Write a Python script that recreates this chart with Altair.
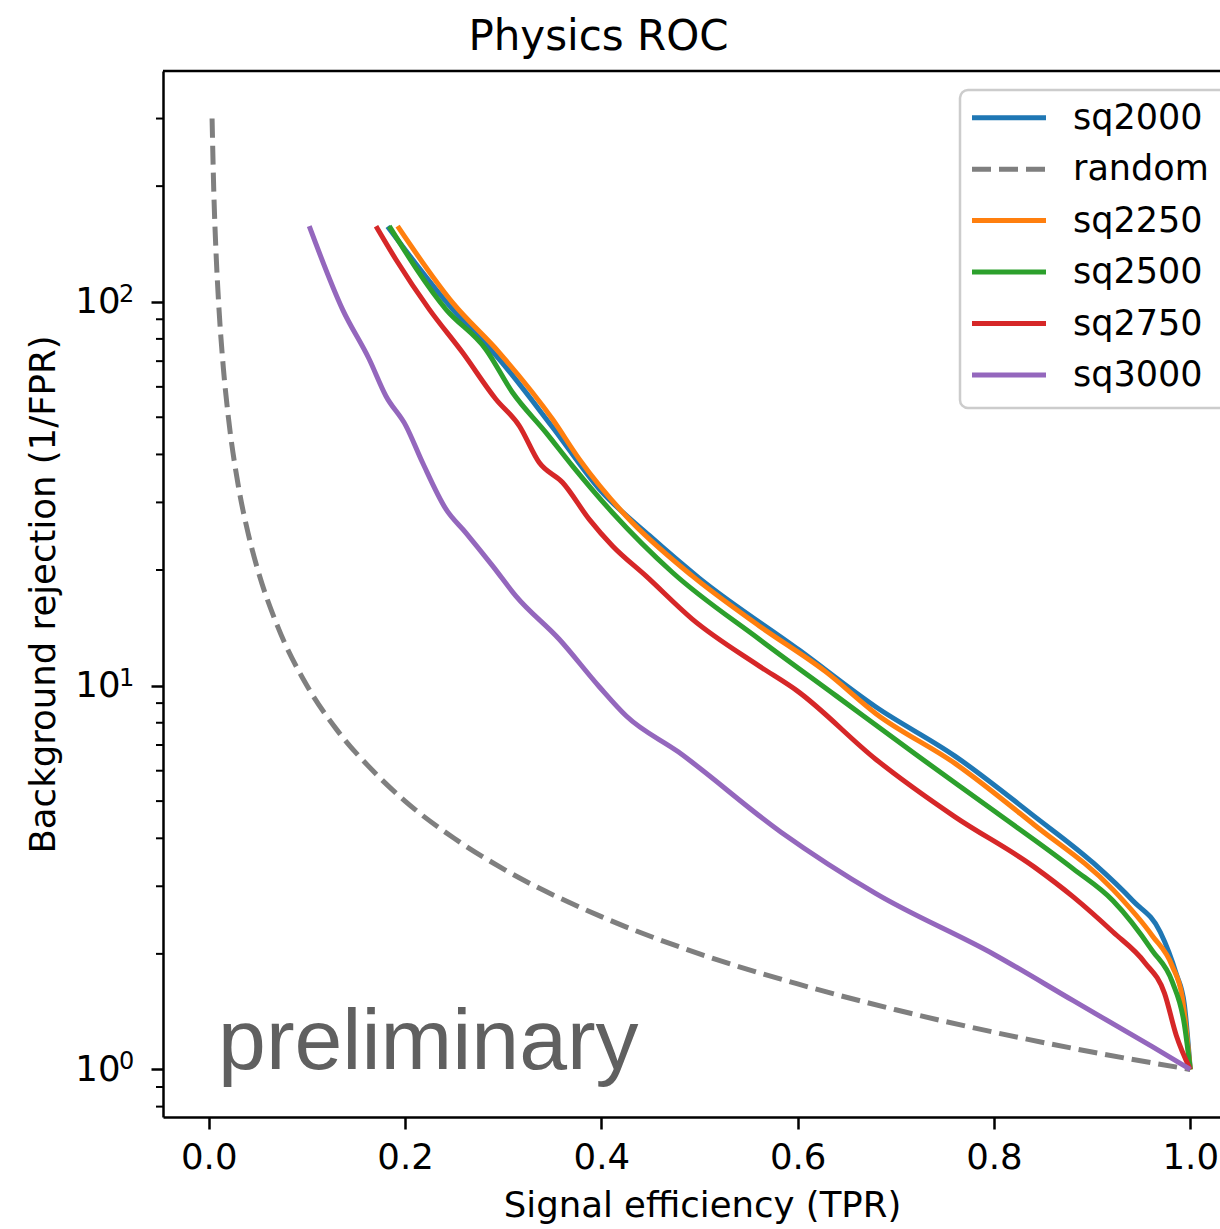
import altair as alt
import pandas as pd

# ---------------- data ----------------
series_names = ["sq2000", "random", "sq2250", "sq2500", "sq2750", "sq3000"]
series_colors = ["#1f77b4", "#7f7f7f", "#ff7f0e", "#2ca02c", "#d62728", "#9467bd"]

sq2000_x = [0.1822, 0.2450, 0.2960, 0.3503, 0.3979, 0.4488, 0.4997, 0.6016, 0.6798,
            0.7603, 0.8409, 0.9012, 0.9415, 0.9694, 0.9857, 0.9939, 1.0]
sq2000_y = [157.0, 97.8, 70.8, 47.1, 32.5, 24.6, 19.05, 12.37, 8.79,
            6.55, 4.57, 3.45, 2.75, 2.28, 1.775, 1.483, 1.0]

random_x = [0.0034, 0.005, 0.0075, 0.01, 0.015, 0.02, 0.03, 0.04, 0.05, 0.07, 0.1, 0.13,
            0.17, 0.2, 0.25, 0.3, 0.4, 0.5, 0.6, 0.7, 0.8, 0.9, 1.0]
random_y = [300, 200, 133, 100, 66.7, 50, 33.3, 25, 20, 14.3, 10, 7.7,
            5.9, 5.0, 4.0, 3.33, 2.5, 2.0, 1.67, 1.43, 1.25, 1.11, 1.0]

sq2250_x = [0.1924, 0.2484, 0.2960, 0.3503, 0.3775, 0.4254, 0.4926, 0.5609, 0.6291,
            0.6798, 0.7603, 0.8409, 0.9213, 0.9613, 0.9817, 0.9918, 1.0]
sq2250_y = [157.3, 99.4, 73.7, 49.4, 38.9, 27.6, 19.3, 14.3, 10.84,
            8.45, 6.27, 4.34, 2.94, 2.23, 1.857, 1.546, 1.0]

sq2500_x = [0.1839, 0.2417, 0.2824, 0.3095, 0.3436, 0.3707, 0.4114, 0.4725, 0.5609,
            0.6393, 0.7198, 0.8003, 0.8808, 0.9213, 0.9613, 0.9817, 0.9939, 1.0]
sq2500_y = [157.3, 95.5, 75.1, 58.0, 45.6, 37.3, 28.2, 19.7, 13.2,
            9.4, 6.63, 4.71, 3.33, 2.75, 2.04, 1.69, 1.315, 1.0]

sq2750_x = [0.1704, 0.1907, 0.2247, 0.2586, 0.2926, 0.3164, 0.3367, 0.3605, 0.3877,
            0.4114, 0.4454, 0.4926, 0.5609, 0.5992, 0.6798, 0.7603, 0.8409, 0.8811,
            0.9213, 0.9536, 0.9737, 0.9857, 1.0]
sq2750_y = [157.3, 128.8, 95.5, 73.7, 55.7, 47.5, 38.1, 33.8, 27.1,
            23.1, 19.3, 14.9, 11.24, 9.70, 6.42, 4.55, 3.37, 2.81,
            2.28, 1.90, 1.58, 1.228, 1.0]

sq3000_x = [0.1024, 0.1363, 0.1635, 0.1805, 0.2009, 0.2178, 0.2417, 0.2620, 0.2892,
            0.3130, 0.3571, 0.3979, 0.4254, 0.4783, 0.5831, 0.6798, 0.8006, 0.8808,
            0.9613, 1.0]
sq3000_y = [157.3, 95.5, 70.8, 56.8, 47.5, 38.1, 28.8, 25.0, 20.5,
            17.1, 13.2, 9.93, 8.33, 6.72, 4.15, 2.87, 1.99, 1.51,
            1.146, 1.0]

x_ticks = [0.0, 0.2, 0.4, 0.6, 0.8, 1.0]
y_ticks = [1, 10, 100]
y_tick_base = "10"
y_tick_exponents = ["0", "1", "2"]
y_minor_ticks = [0.8, 0.9, 2, 3, 4, 5, 6, 7, 8, 9, 20, 30, 40, 50, 60, 70, 80, 90, 200, 300]

watermark = ["preliminary"]

curves = {
    "sq2000": (sq2000_x, sq2000_y),
    "random": (random_x, random_y),
    "sq2250": (sq2250_x, sq2250_y),
    "sq2500": (sq2500_x, sq2500_y),
    "sq2750": (sq2750_x, sq2750_y),
    "sq3000": (sq3000_x, sq3000_y),
}

# ---------------- layout ----------------
W, H = 1057, 1046
FONT = "DejaVu Sans"
FS = 35.5
DASH = [19, 8]

xscale = alt.Scale(domain=[-0.0466, 1.0303], nice=False, zero=False)
yscale = alt.Scale(type="log", domain=[0.7517, 399.0], nice=False)

xaxis = alt.Axis(
    values=x_ticks, format=".1f", title="Signal efficiency (TPR)", grid=False,
    labelFont=FONT, labelFontSize=FS, labelColor="black", labelPadding=11,
    labelFlush=False, labelOverlap=False,
    tickSize=12, tickWidth=2.5, tickColor="black",
    domainColor="black", domainWidth=2.5,
    titleFont=FONT, titleFontSize=FS, titleFontWeight="normal", titleColor="black",
    titleX=539, titleY=99, titleBaseline="alphabetic", titleAlign="center",
)
yaxis = alt.Axis(
    values=y_ticks, labelExpr=f"'{y_tick_base}'", title="Background rejection (1/FPR)", grid=False,
    labelFont=FONT, labelFontSize=FS, labelColor="black", labelPadding=31,
    labelFlush=False, labelOverlap=False,
    tickSize=12, tickWidth=2.5, tickColor="black",
    domainColor="black", domainWidth=2.5,
    titleFont=FONT, titleFontSize=FS, titleFontWeight="normal", titleColor="black",
    titleX=-109, titleY=523, titleAngle=270, titleBaseline="alphabetic", titleAlign="center",
)

layers = []
for name, color in zip(series_names, series_colors):
    xs, ys = curves[name]
    df = pd.DataFrame({"tpr": xs, "rej": ys, "series": name})
    kw = dict(color=color, strokeWidth=5, strokeJoin="round", interpolate="monotone")
    if name == "random":
        kw["strokeDash"] = DASH
    layers.append(
        alt.Chart(df).mark_line(**kw).encode(
            x=alt.X("tpr:Q", scale=xscale, axis=xaxis),
            y=alt.Y("rej:Q", scale=yscale, axis=yaxis),
            order=alt.Order("tpr:Q"),
        )
    )

minor = alt.Chart(pd.DataFrame({"rej": y_minor_ticks})).mark_rule(
    color="black", strokeWidth=2
).encode(
    y=alt.Y("rej:Q", scale=yscale, axis=yaxis),
    x=alt.value(-7), x2=alt.value(0),
)

exponents = alt.Chart(pd.DataFrame({"rej": y_ticks, "exp": y_tick_exponents})).mark_text(
    align="left", baseline="alphabetic", font=FONT, fontSize=24, color="black"
).encode(
    y=alt.Y("rej:Q", scale=yscale, axis=yaxis),
    x=alt.value(-44), text="exp:N",
)

top_frame = alt.Chart(pd.DataFrame({"k": [0]})).mark_rule(
    color="black", strokeWidth=2.5
).encode(y=alt.value(0), x=alt.value(0), x2=alt.value(W))

prelim = alt.Chart(pd.DataFrame({"label": watermark})).mark_text(
    align="left", baseline="alphabetic", font="Liberation Sans", fontSize=86, color="#606060"
).encode(
    x=alt.datum(0.0095), y=alt.datum(1.0), text="label:N"
)

main = alt.layer(*layers, minor, exponents, prelim, top_frame)

# ---------------- legend (drawn by hand, clipped by page edge like the original) ----------------
leg_df = pd.DataFrame({"series": series_names})
leg_y = alt.Y("series:N", scale=alt.Scale(type="point", domain=series_names,
                                          range=[46.7, 304], padding=0), axis=None)
leg_box = alt.Chart(pd.DataFrame({"k": [0]})).mark_rect(
    fill="white", fillOpacity=0.8, stroke="#cccccc", strokeWidth=2.5, cornerRadius=8
).encode(x=alt.value(797), x2=alt.value(1300), y=alt.value(19), y2=alt.value(337))
leg_lines = alt.Chart(leg_df).mark_rule(strokeWidth=5).encode(
    y=leg_y, x=alt.value(809), x2=alt.value(883),
    color=alt.Color("series:N", scale=alt.Scale(domain=series_names, range=series_colors), legend=None),
    strokeDash=alt.StrokeDash("series:N", scale=alt.Scale(
        domain=series_names, range=[[1, 0], DASH, [1, 0], [1, 0], [1, 0], [1, 0]]), legend=None),
)
leg_text = alt.Chart(leg_df).mark_text(
    align="left", baseline="middle", font=FONT, fontSize=35, color="black"
).encode(y=leg_y, x=alt.value(910), text="series:N")

legend = alt.layer(leg_box, leg_lines, leg_text)

chart = alt.layer(main, legend).resolve_scale(y="independent").properties(
    width=W, height=H,
    padding={"left": 163, "top": 71, "right": 0, "bottom": 112},
    autosize=alt.AutoSizeParams(type="none"),
    background="white",
    title=alt.Title(
        "Physics ROC", font=FONT, fontSize=42, fontWeight="normal", color="black",
        anchor="middle", frame="group", dx=-93, dy=42, offset=20, baseline="alphabetic",
    ),
).configure_view(stroke=None)

chart.save("out.html", embed_options={"renderer": "svg", "actions": False})
